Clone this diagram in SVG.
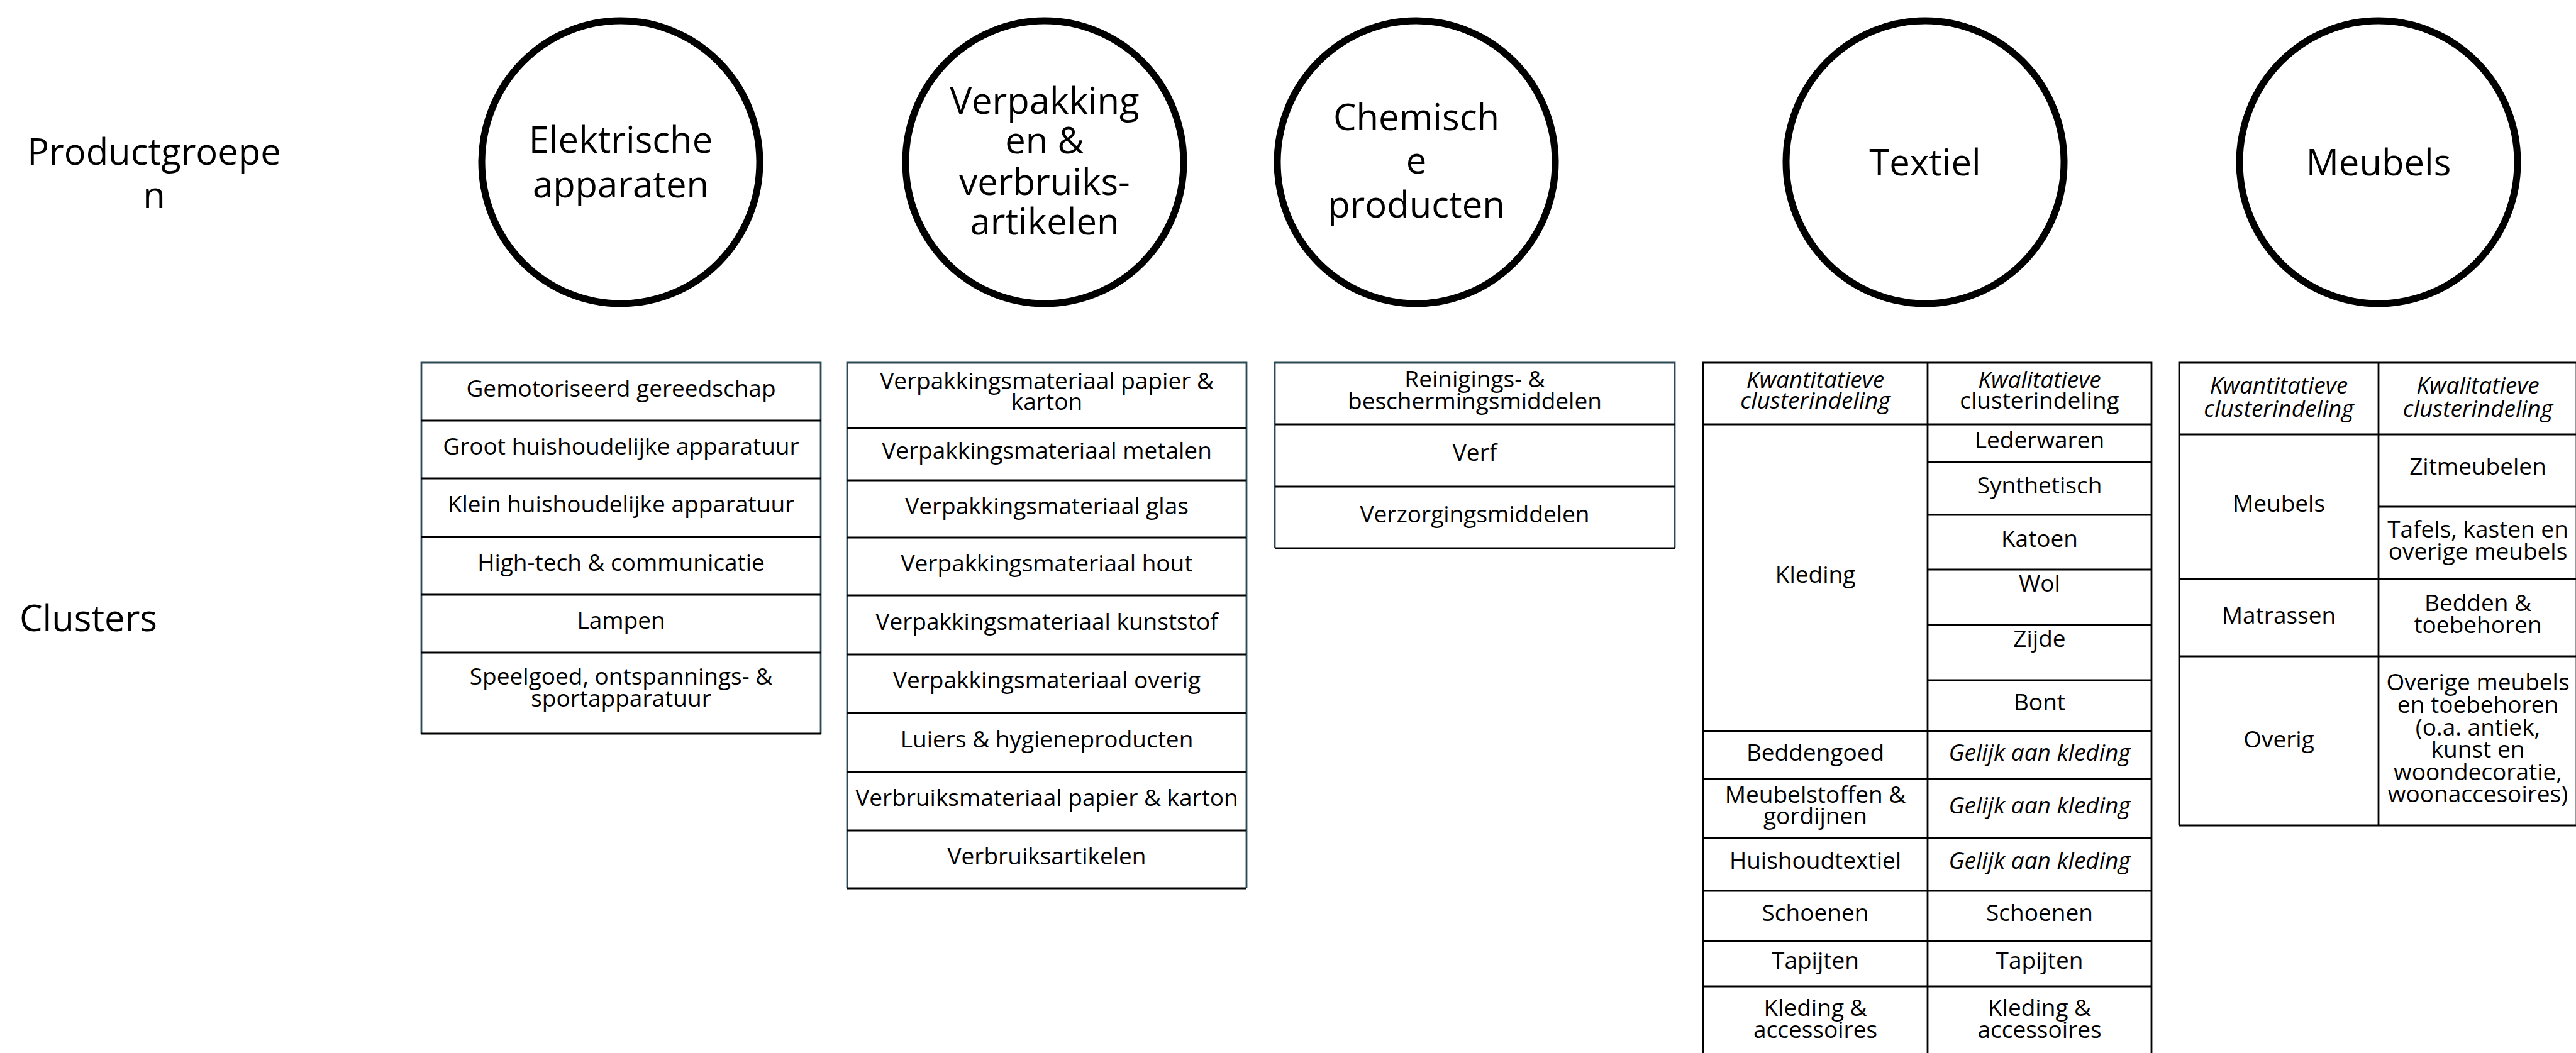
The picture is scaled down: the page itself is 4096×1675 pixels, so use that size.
<svg xmlns="http://www.w3.org/2000/svg" width="4096" height="1675" viewBox="0 0 4096 1675">
<style>
text{font-family:"Open Sans","Noto Sans","Liberation Sans",sans-serif;fill:#000}
.big{font-size:58px}
.c{text-anchor:middle}
.t{font-size:37px;text-anchor:middle}
.i{font-style:italic}
.circ{fill:#fff;stroke:#000;stroke-width:11}
.edge{fill:none;stroke:#2c4a55;stroke-width:2.8}
.ln{fill:none;stroke:#000;stroke-width:2.8}
</style>
<rect width="4096" height="1675" fill="#fff"/>
<g id="labels">
<text class="big c" x="245" y="262">Productgroepe</text>
<text class="big c" x="245" y="331">n</text>
<text class="big" x="31" y="1004">Clusters</text>
</g>
<g id="connectors"/>
<g id="pg-elektrisch">
<ellipse class="circ" cx="987" cy="258" rx="221" ry="225"/>
<text class="big c" x="987" y="243">Elektrische</text>
<text class="big c" x="987" y="314">apparaten</text>
</g>
<g id="pg-verpakking">
<ellipse class="circ" cx="1661" cy="258" rx="221" ry="225"/>
<text class="big c" x="1661" y="181">Verpakking</text>
<text class="big c" x="1661" y="244">en &amp;</text>
<text class="big c" x="1661" y="310">verbruiks-</text>
<text class="big c" x="1661" y="373">artikelen</text>
</g>
<g id="pg-chemisch">
<ellipse class="circ" cx="2252" cy="258" rx="221" ry="225"/>
<text class="big c" x="2252" y="207">Chemisch</text>
<text class="big c" x="2252" y="276">e</text>
<text class="big c" x="2252" y="346">producten</text>
</g>
<g id="pg-textiel">
<ellipse class="circ" cx="3061" cy="258" rx="221" ry="225"/>
<text class="big c" x="3061" y="279">Textiel</text>
</g>
<g id="pg-meubels">
<ellipse class="circ" cx="3782" cy="258" rx="221" ry="225"/>
<text class="big c" x="3782" y="279">Meubels</text>
</g>

<g id="cl-elektrisch">
<path class="edge" d="M670,1167V577H1305V1167"/>
<path class="ln" d="M670,669H1305M670,761H1305M670,854H1305M670,946H1305M670,1038H1305M670,1167H1305"/>
<text class="t" x="987.5" y="631">Gemotoriseerd gereedschap</text>
<text class="t" x="987.5" y="723">Groot huishoudelijke apparatuur</text>
<text class="t" x="987.5" y="815">Klein huishoudelijke apparatuur</text>
<text class="t" x="987.5" y="908">High-tech &amp; communicatie</text>
<text class="t" x="987.5" y="1000">Lampen</text>
<text class="t" x="987.5" y="1089">Speelgoed, ontspannings- &amp;</text>
<text class="t" x="987.5" y="1124">sportapparatuur</text>
</g>

<g id="cl-verpakking">
<path class="edge" d="M1347,1413V577H1982V1413"/>
<path class="ln" d="M1347,681H1982M1347,764H1982M1347,855H1982M1347,947H1982M1347,1041H1982M1347,1134H1982M1347,1228H1982M1347,1321H1982M1347,1413H1982"/>
<text class="t" x="1664.5" y="619">Verpakkingsmateriaal papier &amp;</text>
<text class="t" x="1664.5" y="652">karton</text>
<text class="t" x="1664.5" y="730">Verpakkingsmateriaal metalen</text>
<text class="t" x="1664.5" y="818">Verpakkingsmateriaal glas</text>
<text class="t" x="1664.5" y="909">Verpakkingsmateriaal hout</text>
<text class="t" x="1664.5" y="1002">Verpakkingsmateriaal kunststof</text>
<text class="t" x="1664.5" y="1095">Verpakkingsmateriaal overig</text>
<text class="t" x="1664.5" y="1189">Luiers &amp; hygieneproducten</text>
<text class="t" x="1664.5" y="1282">Verbruiksmateriaal papier &amp; karton</text>
<text class="t" x="1664.5" y="1375">Verbruiksartikelen</text>
</g>

<g id="cl-chemisch">
<path class="edge" d="M2027,872V577H2663V872"/>
<path class="ln" d="M2027,675H2663M2027,774H2663M2027,872H2663"/>
<text class="t" x="2345" y="616">Reinigings- &amp;</text>
<text class="t" x="2345" y="651">beschermingsmiddelen</text>
<text class="t" x="2345" y="733">Verf</text>
<text class="t" x="2345" y="831">Verzorgingsmiddelen</text>
</g>

<g id="cl-textiel">
<path class="ln" d="M2708,1690V577H3421V1690M3065,577V1690"/>
<path class="ln" d="M2708,675H3421M3065,735H3421M3065,819H3421M3065,906H3421M3065,994H3421M3065,1082H3421M2708,1163H3421M2708,1239H3421M2708,1333H3421M2708,1417H3421M2708,1497H3421M2708,1569H3421"/>
<text class="t i" x="2886.5" y="617">Kwantitatieve</text>
<text class="t i" x="2886.5" y="650">clusterindeling</text>
<text class="t i" x="3243" y="617">Kwalitatieve</text>
<text class="t" x="3243" y="650">clusterindeling</text>
<text class="t" x="3243" y="713">Lederwaren</text>
<text class="t" x="3243" y="785">Synthetisch</text>
<text class="t" x="3243" y="870">Katoen</text>
<text class="t" x="3243" y="941">Wol</text>
<text class="t" x="3243" y="1029">Zijde</text>
<text class="t" x="3243" y="1130">Bont</text>
<text class="t" x="2886.5" y="927">Kleding</text>
<text class="t" x="2886.5" y="1210">Beddengoed</text>
<text class="t i" x="3243" y="1210">Gelijk aan kleding</text>
<text class="t" x="2886.5" y="1277">Meubelstoffen &amp;</text>
<text class="t" x="2886.5" y="1311">gordijnen</text>
<text class="t i" x="3243" y="1294">Gelijk aan kleding</text>
<text class="t" x="2886.5" y="1382">Huishoudtextiel</text>
<text class="t i" x="3243" y="1382">Gelijk aan kleding</text>
<text class="t" x="2886.5" y="1465">Schoenen</text>
<text class="t" x="3243" y="1465">Schoenen</text>
<text class="t" x="2886.5" y="1541">Tapijten</text>
<text class="t" x="3243" y="1541">Tapijten</text>
<text class="t" x="2886.5" y="1616">Kleding &amp;</text>
<text class="t" x="2886.5" y="1651">accessoires</text>
<text class="t" x="3243" y="1616">Kleding &amp;</text>
<text class="t" x="3243" y="1651">accessoires</text>
</g>

<g id="cl-meubels">
<path class="ln" d="M3465,1313V577H4097V1313M3782,577V1313"/>
<path class="ln" d="M3465,691H4097M3782,806H4097M3465,921H4097M3465,1044H4097M3465,1313H4097"/>
<text class="t i" x="3623.5" y="626">Kwantitatieve</text>
<text class="t i" x="3623.5" y="663">clusterindeling</text>
<text class="t i" x="3940" y="626">Kwalitatieve</text>
<text class="t i" x="3940" y="663">clusterindeling</text>
<text class="t" x="3940" y="755">Zitmeubelen</text>
<text class="t" x="3623.5" y="814">Meubels</text>
<text class="t" x="3940" y="855">Tafels, kasten en</text>
<text class="t" x="3940" y="890">overige meubels</text>
<text class="t" x="3623.5" y="992">Matrassen</text>
<text class="t" x="3940" y="972">Bedden &amp;</text>
<text class="t" x="3940" y="1007">toebehoren</text>
<text class="t" x="3623.5" y="1189">Overig</text>
<text class="t" x="3940" y="1098">Overige meubels</text>
<text class="t" x="3940" y="1134">en toebehoren</text>
<text class="t" x="3940" y="1170">(o.a. antiek,</text>
<text class="t" x="3940" y="1205">kunst en</text>
<text class="t" x="3940" y="1241">woondecoratie,</text>
<text class="t" x="3940" y="1276">woonaccesoires)</text>
</g>
</svg>
